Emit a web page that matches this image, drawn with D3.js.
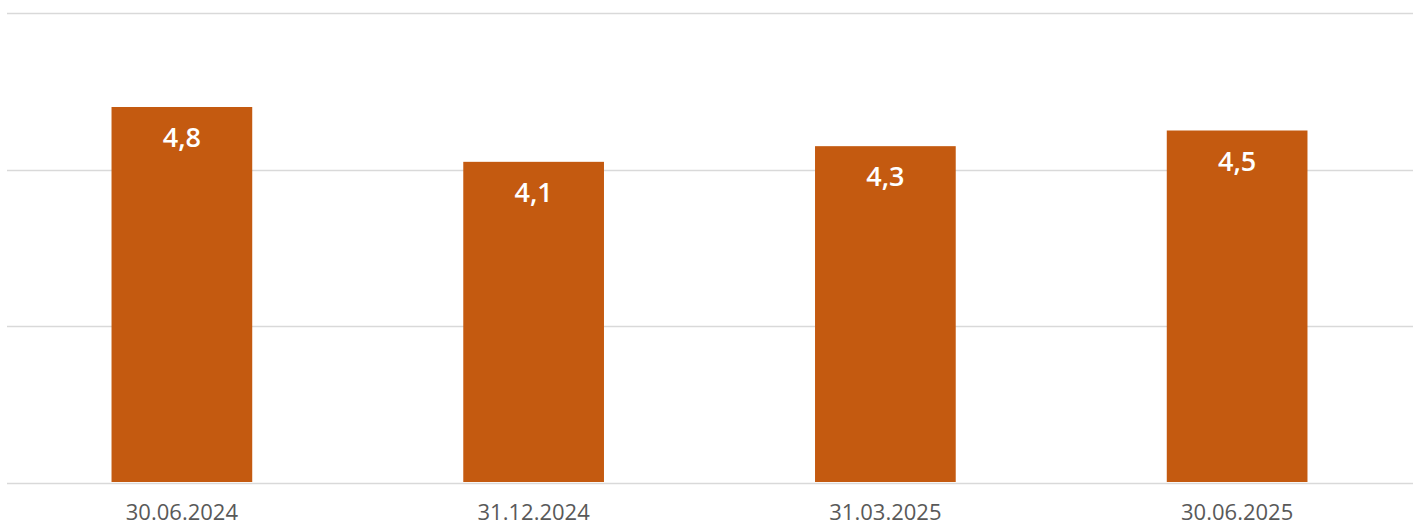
<!DOCTYPE html>
<html>
<head>
<meta charset="utf-8">
<script src="https://cdn.jsdelivr.net/npm/d3@7"></script>
<style>
  body { margin: 0; background: #fff; }
  svg { display: block; font-family: 'Open Sans', 'Noto Sans', sans-serif; }
</style>
</head>
<body>
<div id="chart"></div>
<script>
const categories = ['30.06.2024', '31.12.2024', '31.03.2025', '30.06.2025'];
const values = [4.8, 4.1, 4.3, 4.5];
const yTicks = [0, 2, 4, 6];

const width = 1420;
const height = 527;
const margin = { top: 13, right: 7, bottom: 44, left: 6 };

const svg = d3.select('#chart')
  .append('svg')
  .attr('width', width)
  .attr('height', height);

const x = d3.scaleBand()
  .domain(categories)
  .range([margin.left, width - margin.right])
  .paddingInner(0.6)
  .paddingOuter(0.3);

const y = d3.scaleLinear()
  .domain([0, 6])
  .range([height - margin.bottom, margin.top]);

// gridlines
svg.append('g')
  .selectAll('line')
  .data(yTicks)
  .join('line')
  .attr('x1', margin.left + 1)
  .attr('x2', width - margin.right)
  .attr('y1', (d) => Math.round(y(d)) + 0.5)
  .attr('y2', (d) => Math.round(y(d)) + 0.5)
  .attr('stroke', '#d9d9d9')
  .attr('stroke-width', 1.5);

// bars
svg.append('g')
  .attr('fill', '#c45a10')
  .selectAll('rect')
  .data(values)
  .join('rect')
  .attr('x', (d, i) => x(categories[i]))
  .attr('y', (d) => y(d))
  .attr('width', x.bandwidth())
  .attr('height', (d) => y(0) - y(d) - 1);

// value labels
svg.append('g')
  .selectAll('text')
  .data(values)
  .join('text')
  .attr('x', (d, i) => x(categories[i]) + x.bandwidth() / 2)
  .attr('y', (d) => y(d) + 40)
  .attr('text-anchor', 'middle')
  .attr('fill', '#fff')
  .attr('font-size', '27px')
  .attr('font-weight', 600)
  .text((d) => d.toFixed(1).replace('.', ','));

// x axis labels
const xAxis = d3.axisBottom(x).tickSize(0).tickPadding(21);
svg.append('g')
  .attr('transform', `translate(0,${y(0)})`)
  .call(xAxis)
  .call((g) => g.select('.domain').remove())
  .selectAll('text')
  .attr('font-size', '22px')
  .attr('font-family', "'Open Sans', 'Noto Sans', sans-serif")
  .attr('fill', '#595959');
</script>
</body>
</html>
